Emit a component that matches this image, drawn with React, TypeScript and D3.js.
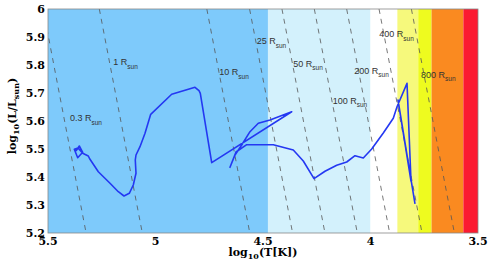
import React from "react";
import * as d3 from "d3";

const W = 491;
const H = 266;

// Spectral class band edges (log10 T) and colours
const bandEdges = [5.5, 4.477, 4.0, 3.875, 3.778, 3.716, 3.568, 3.5];
const bandColors = ["#7ecafb", "#d3f1fc", "#ffffff", "#f6f97c", "#eefb1f", "#fa8a20", "#fb1a31"];

// Constant-radius lines (R / Rsun)
const radii = [0.3, 1, 10, 25, 50, 100, 200, 400, 800];
const radiusLabels = ["0.3", "1", "10", "25", "50", "100", "200", "400", "800"];
const labelLogT = [5.3977, 5.1963, 4.7033, 4.5293, 4.359, 4.1758, 4.0753, 3.959, 3.7651];
const labelLogL = [5.6, 5.8, 5.764, 5.875, 5.793, 5.661, 5.768, 5.9, 5.755];

// Evolutionary track
const trackLogT = [
  5.3698, 5.3544, 5.3386, 5.3619, 5.3777, 5.3605, 5.3386, 5.3126, 5.3047, 5.266,
  5.2116, 5.173, 5.1465, 5.1219, 5.1033, 5.0907, 5.094, 5.0907, 5.0721, 5.0488,
  5.0223, 4.9247, 4.8163, 4.7977, 4.7916, 4.7386, 4.3665, 4.4674, 4.5219, 4.5605,
  4.5991, 4.6302, 4.6535, 4.6256, 4.5758, 4.4521, 4.3591, 4.3126, 4.2628, 4.2116,
  4.1572, 4.1107, 4.0721, 4.0335, 3.9944, 3.9405, 3.894, 3.8767, 3.8302, 3.8116,
  3.8721, 3.793,
];
const trackLogL = [
  5.4929, 5.5107, 5.4882, 5.4689, 5.4989, 5.5036, 5.4846, 5.475, 5.4632, 5.4189,
  5.3775, 5.3475, 5.3321, 5.3418, 5.3714, 5.4132, 5.4607, 5.4786, 5.5082, 5.5561,
  5.6239, 5.6954, 5.7204, 5.7082, 5.6989, 5.4511, 5.6332, 5.6036, 5.5918, 5.5618,
  5.5143, 5.4786, 5.4346, 5.4893, 5.5154, 5.5154, 5.4964, 5.4571, 5.3939, 5.4204,
  5.4418, 5.4536, 5.4761, 5.4679, 5.5, 5.5571, 5.6096, 5.6511, 5.7346, 5.3857,
  5.675, 5.3036,
];

const xTicks = [5.5, 5, 4.5, 4, 3.5];
const yTicks = [5.2, 5.3, 5.4, 5.5, 5.6, 5.7, 5.8, 5.9, 6];

const LOG_TSUN = Math.log10(5772);

export default function App() {
  const m = { left: 48, top: 9, right: 478, bottom: 233 };
  const x = d3.scaleLinear().domain([5.5, 3.5]).range([m.left, m.right]);
  const y = d3.scaleLinear().domain([5.2, 6]).range([m.bottom, m.top]);
  const line = d3
    .line<number>()
    .x((_, i) => x(trackLogT[i]))
    .y((_, i) => y(trackLogL[i]));
  const serif = "'DejaVu Serif', serif";
  const sans = "'Liberation Sans', Arial, sans-serif";

  return (
    <svg
      width={W}
      height={H}
      style={{ position: "absolute", left: 0, top: 0, background: "#fff" }}
    >
      <defs>
        <clipPath id="plot">
          <rect x={m.left} y={m.top} width={m.right - m.left} height={m.bottom - m.top} />
        </clipPath>
      </defs>
      {bandColors.map((c, i) => (
        <rect
          key={i}
          x={x(bandEdges[i])}
          y={m.top}
          width={x(bandEdges[i + 1]) - x(bandEdges[i])}
          height={m.bottom - m.top}
          fill={c}
        />
      ))}
      <g clipPath="url(#plot)">
        {radii.map((r, i) => {
          const lr = Math.log10(r);
          const tAt = (l: number) => LOG_TSUN + (l - 2 * lr) / 4;
          return (
            <line
              key={i}
              x1={x(tAt(6))}
              y1={y(6)}
              x2={x(tAt(5.2))}
              y2={y(5.2)}
              stroke="#555"
              strokeWidth={0.8}
              strokeDasharray="5,5"
            />
          );
        })}
        <path
          d={line(trackLogT) || ""}
          fill="none"
          stroke="#2438f2"
          strokeWidth={1.6}
          strokeLinejoin="round"
        />
      </g>
      {radiusLabels.map((t, i) => (
        <text
          key={i}
          x={x(labelLogT[i])}
          y={y(labelLogL[i])}
          fontFamily={sans}
          fontSize={9}
          fill="#333"
        >
          {t + " R"}
          <tspan fontSize={6.5} dy={3.5}>
            sun
          </tspan>
        </text>
      ))}
      <rect
        x={m.left}
        y={m.top}
        width={m.right - m.left}
        height={m.bottom - m.top}
        fill="none"
        stroke="#888"
        strokeWidth={0.8}
      />
      {xTicks.map((t) => (
        <text
          key={t}
          x={x(t)}
          y={245}
          textAnchor="middle"
          fontFamily={serif}
          fontWeight="bold"
          fontSize={11}
          fill="#000"
        >
          {t}
        </text>
      ))}
      {yTicks.map((t) => (
        <text
          key={t}
          x={45}
          y={y(t) + 4}
          textAnchor="end"
          fontFamily={serif}
          fontWeight="bold"
          fontSize={11}
          fill="#000"
        >
          {t}
        </text>
      ))}
      <text
        x={(m.left + m.right) / 2}
        y={256}
        textAnchor="middle"
        fontFamily={serif}
        fontWeight="bold"
        fontSize={11}
      >
        log
        <tspan fontSize={8} dy={3}>
          10
        </tspan>
        <tspan dy={-3}>(T[K])</tspan>
      </text>
      <text
        transform={`translate(16, ${116}) rotate(-90)`}
        textAnchor="middle"
        fontFamily={serif}
        fontWeight="bold"
        fontSize={11}
      >
        log
        <tspan fontSize={8} dy={3}>
          10
        </tspan>
        <tspan dy={-3}>(L/L</tspan>
        <tspan fontSize={8} dy={3}>
          sun
        </tspan>
        <tspan dy={-3}>)</tspan>
      </text>
    </svg>
  );
}
